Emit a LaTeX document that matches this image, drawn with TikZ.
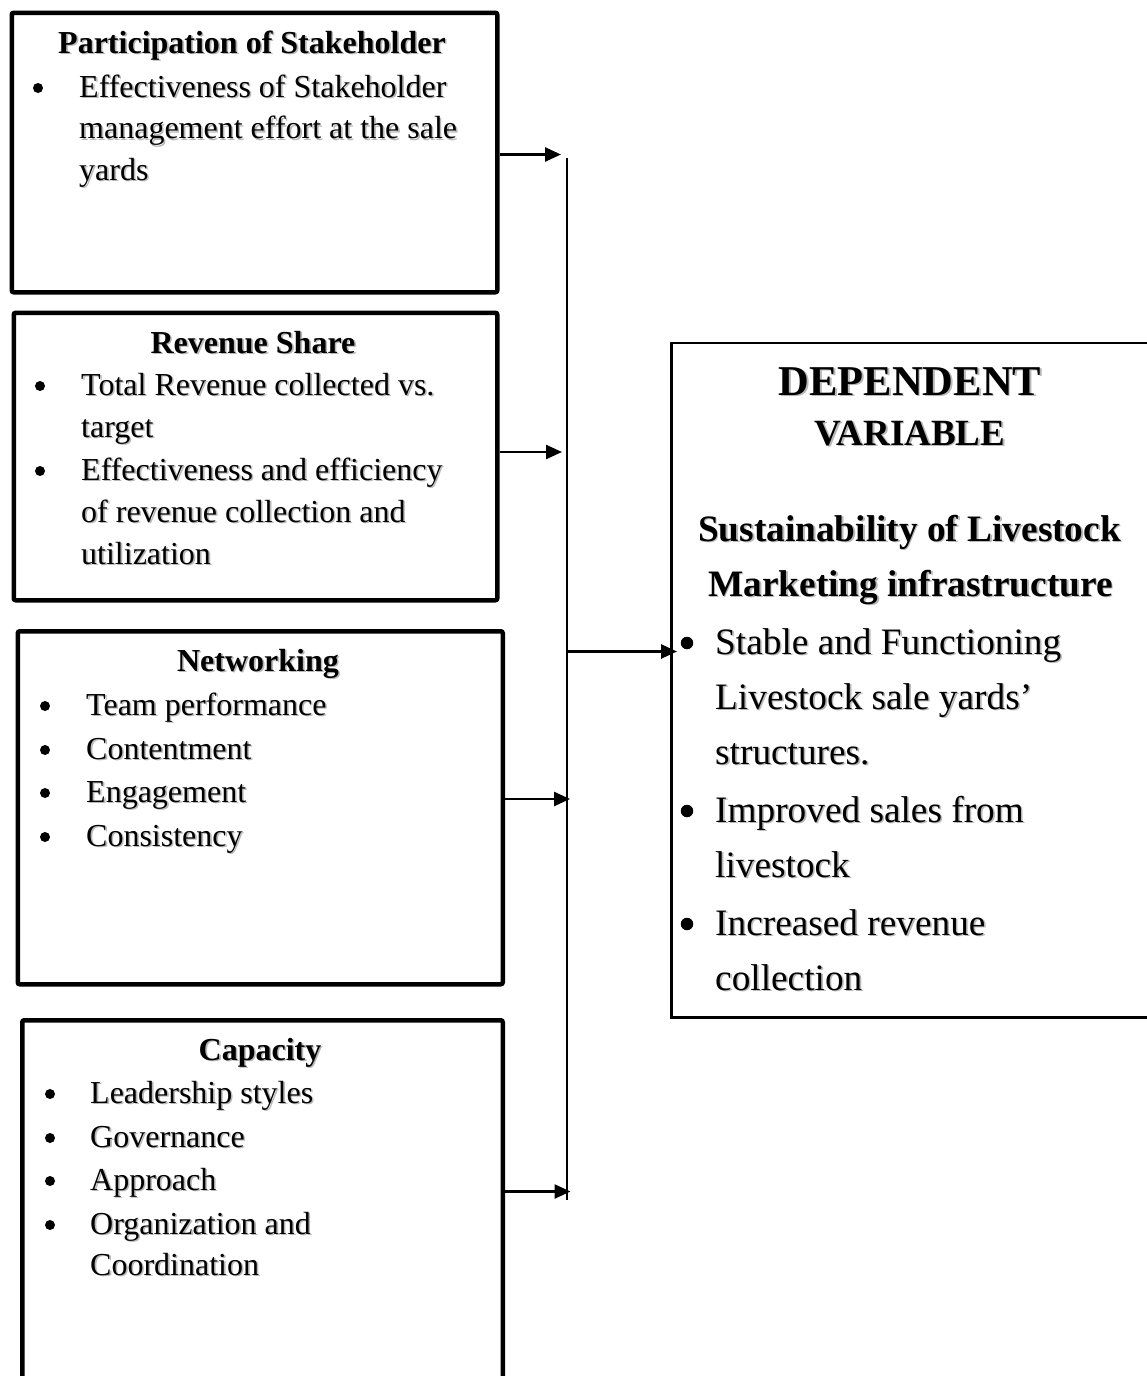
\documentclass[tikz,border=0pt]{standalone}
\usepackage{fontspec}
\setmainfont{Liberation Serif}
\usetikzlibrary{arrows.meta}
\newcommand\fsz[1]{\fontsize{#1}{#1}\selectfont}
% text with a soft grey drop shadow
\newcommand\shd[1]{\makebox[0pt][l]{\hspace{1.6pt}\raisebox{-1.6pt}{\color{black!28}#1}}#1}
\tikzset{
  lbox/.style={draw, line width=4.5pt, rounded corners=2pt, inner sep=0pt, anchor=north west},
  dbox/.style={draw, line width=2.5pt, inner sep=0pt, anchor=north west},
  ttl/.style={anchor=base, inner sep=0pt, font=\bfseries\fsz{32}},
  itm/.style={anchor=base west, inner sep=0pt, font=\fsz{32}},
  bul/.style={circle, fill=black, inner sep=0pt, minimum size=10pt},
  dtl/.style={anchor=base, inner sep=0pt, font=\bfseries\fsz{37.3}},
  ditm/.style={anchor=base west, inner sep=0pt, font=\fsz{37.3}},
  dbul/.style={circle, fill=black, inner sep=0pt, minimum size=12.5pt},
  arr/.style={line width=2.5pt, -{Triangle[length=16pt,width=14pt]}},
  bus/.style={line width=1.8pt}
}
\begin{document}
\begin{tikzpicture}[x=1pt,y=-1pt]
\useasboundingbox (0,0) rectangle (1147,1376);
\clip (0,0) rectangle (1147,1376);
\fill[white] (0,0) rectangle (1147,1376);

% independent variable boxes
\node[lbox, minimum width=485.5pt, minimum height=279.5pt] (ps) at (9.5,10.5) {};
\node[lbox, minimum width=483.5pt, minimum height=287.5pt] (rs) at (11.5,310.5) {};
\node[lbox, minimum width=485pt, minimum height=353pt] (nw) at (15.5,629) {};
\node[lbox, minimum width=480.5pt, minimum height=420pt] (cp) at (20,1018) {};

% dependent variable box
\node[dbox, minimum width=600pt, minimum height=674.5pt] (dv) at (670,341.5) {};

% Participation of Stakeholder
\node[ttl] (ps-t) at (252,53) {\shd{Participation of Stakeholder}};
\node[bul] (ps-b1) at (38,88) {};
\node[itm] (ps-1) at (79,97) {\shd{Effectiveness of Stakeholder}};
\node[itm] (ps-2) at (79,138.5) {\shd{management effort at the sale}};
\node[itm] (ps-3) at (79,180) {\shd{yards}};

% Revenue Share
\node[ttl] (rs-t) at (253,353) {\shd{Revenue Share}};
\node[bul] (rs-b1) at (40,386) {};
\node[itm] (rs-1) at (81,395) {\shd{Total Revenue collected vs.}};
\node[itm] (rs-2) at (81,437) {\shd{target}};
\node[bul] (rs-b2) at (40,471) {};
\node[itm] (rs-3) at (81,480) {\shd{Effectiveness and efficiency}};
\node[itm] (rs-4) at (81,522) {\shd{of revenue collection and}};
\node[itm] (rs-5) at (81,564) {\shd{utilization}};

% Networking
\node[ttl] (nw-t) at (258,671) {\shd{Networking}};
\node[bul] (nw-b1) at (45,706) {};
\node[itm] (nw-1) at (86,715) {\shd{Team performance}};
\node[bul] (nw-b2) at (45,750) {};
\node[itm] (nw-2) at (86,759) {\shd{Contentment}};
\node[bul] (nw-b3) at (45,793) {};
\node[itm] (nw-3) at (86,802) {\shd{Engagement}};
\node[bul] (nw-b4) at (45,837) {};
\node[itm] (nw-4) at (86,846) {\shd{Consistency}};

% Capacity
\node[ttl] (cp-t) at (260,1060) {\shd{Capacity}};
\node[bul] (cp-b1) at (50,1094) {};
\node[itm] (cp-1) at (90,1103) {\shd{Leadership styles}};
\node[bul] (cp-b2) at (50,1138) {};
\node[itm] (cp-2) at (90,1147) {\shd{Governance}};
\node[bul] (cp-b3) at (50,1181) {};
\node[itm] (cp-3) at (90,1190) {\shd{Approach}};
\node[bul] (cp-b4) at (50,1225) {};
\node[itm] (cp-4) at (90,1234) {\shd{Organization and}};
\node[itm] (cp-5) at (90,1275) {\shd{Coordination}};

% Dependent variable text
\node[anchor=base, inner sep=0pt, font=\bfseries\fsz{42.5}] (dv-t1) at (910,395) {\shd{DEPENDENT}};
\node[anchor=base, inner sep=0pt, font=\bfseries\fsz{37}] (dv-t2) at (910,445) {\shd{VARIABLE}};
\node[dtl] (dv-t3) at (909.5,541) {\shd{Sustainability of Livestock}};
\node[dtl] (dv-t4) at (910.5,596) {\shd{Marketing infrastructure}};
\node[dbul] (dv-b1) at (687,643) {};
\node[ditm] (dv-1) at (715,654) {\shd{Stable and Functioning}};
\node[ditm] (dv-2) at (715,709) {\shd{Livestock sale yards’}};
\node[ditm] (dv-3) at (715,764) {\shd{structures.}};
\node[dbul] (dv-b2) at (687,811) {};
\node[ditm] (dv-4) at (715,822) {\shd{Improved sales from}};
\node[ditm] (dv-5) at (715,877) {\shd{livestock}};
\node[dbul] (dv-b3) at (687,924) {};
\node[ditm] (dv-6) at (715,935) {\shd{Increased revenue}};
\node[ditm] (dv-7) at (715,990) {\shd{collection}};

% collecting line and arrows
\coordinate (bt) at (567,158);
\coordinate (bb) at (567,1200);
\draw[bus] (bt) -- (bb);
\coordinate (a1) at (561,154.5);
\coordinate (a2) at (562,452);
\coordinate (a3) at (570,799);
\coordinate (a4) at (570.5,1191.5);
\coordinate (a5) at (677,651.5);
\draw[arr] (ps.east |- a1) -- (a1);
\draw[arr] (rs.east |- a2) -- (a2);
\draw[arr] (nw.east |- a3) -- (a3);
\draw[arr] (cp.east |- a4) -- (a4);
\draw[arr] (a5 -| bt) -- (a5);
\end{tikzpicture}
\end{document}
